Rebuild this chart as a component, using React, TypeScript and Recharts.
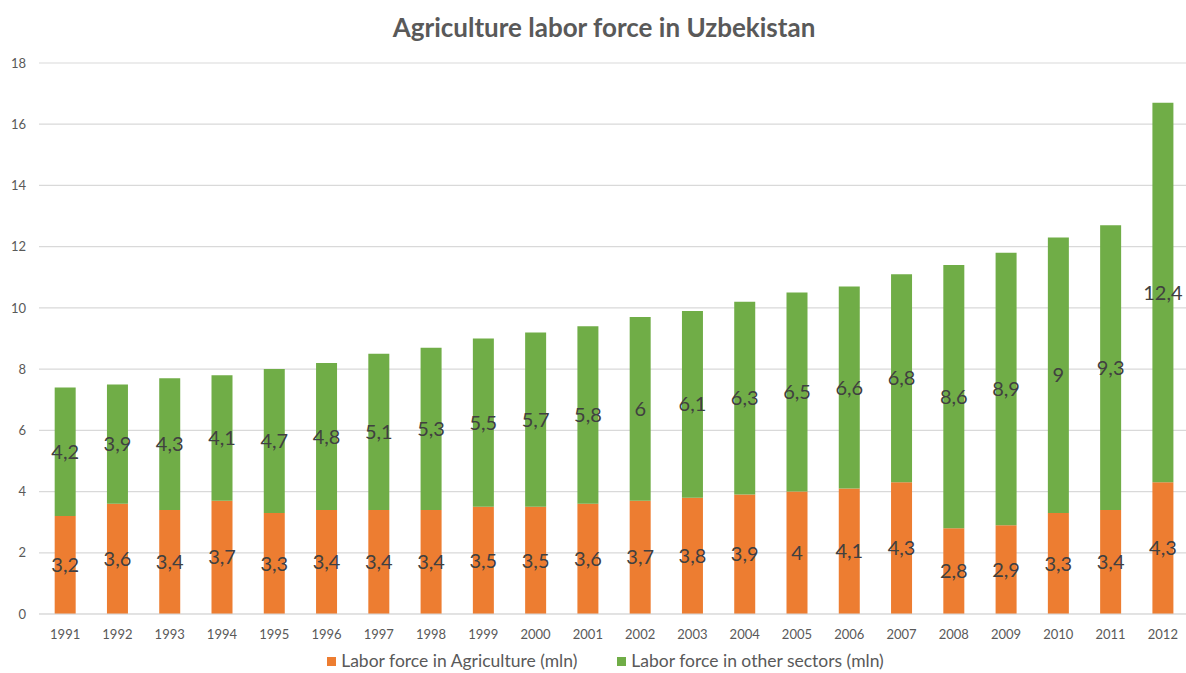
import { Bar, BarChart, CartesianGrid, LabelList, Legend, XAxis, YAxis } from 'recharts';

const years = [
  '1991', '1992', '1993', '1994', '1995', '1996', '1997', '1998', '1999', '2000', '2001',
  '2002', '2003', '2004', '2005', '2006', '2007', '2008', '2009', '2010', '2011', '2012',
];
const agriculture = [3.2, 3.6, 3.4, 3.7, 3.3, 3.4, 3.4, 3.4, 3.5, 3.5, 3.6, 3.7, 3.8, 3.9, 4, 4.1, 4.3, 2.8, 2.9, 3.3, 3.4, 4.3];
const otherSectors = [4.2, 3.9, 4.3, 4.1, 4.7, 4.8, 5.1, 5.3, 5.5, 5.7, 5.8, 6, 6.1, 6.3, 6.5, 6.6, 6.8, 8.6, 8.9, 9, 9.3, 12.4];
const yTicks = [0, 2, 4, 6, 8, 10, 12, 14, 16, 18];

const FONT = 'Lato, "Open Sans", sans-serif';
const ORANGE = '#ED7D31';
const GREEN = '#70AD47';

const chartData = years.map((year, i) => ({ year, agri: agriculture[i], other: otherSectors[i] }));

const fmt = (v: number | string) => String(v).replace('.', ',');

const legendItems = [
  { label: 'Labor force in Agriculture (mln)', color: ORANGE },
  { label: 'Labor force in other sectors (mln)', color: GREEN },
];

function ChartLegend() {
  return (
    <div
      style={{
        display: 'flex',
        justifyContent: 'center',
        gap: 40,
        paddingLeft: 22,
        paddingTop: 14,
        lineHeight: '18px',
      }}
    >
      {legendItems.map((it) => (
        <div key={it.label} style={{ display: 'flex', alignItems: 'center', fontSize: 17.5, color: '#595959' }}>
          <span style={{ width: 9, height: 9, background: it.color, marginRight: 5, display: 'inline-block' }} />
          {it.label}
        </div>
      ))}
    </div>
  );
}

export default function App() {
  return (
    <div
      style={{
        position: 'fixed',
        left: 0,
        top: 0,
        width: 1186,
        height: 673,
        overflow: 'hidden',
        background: '#fff',
        fontFamily: FONT,
      }}
    >
      <div
        style={{
          position: 'absolute',
          top: 11,
          left: 0,
          width: 1208,
          textAlign: 'center',
          fontSize: 26,
          fontWeight: 700,
          color: '#595959',
        }}
      >
        Agriculture labor force in Uzbekistan
      </div>
      <BarChart
        width={1200}
        height={673}
        data={chartData}
        margin={{ top: 63, right: 11, left: 0, bottom: 0 }}
        barCategoryGap="30%"
      >
        <CartesianGrid vertical={false} stroke="#D9D9D9" strokeWidth={1.2} />
        <XAxis
          dataKey="year"
          height={24}
          tickLine={false}
          axisLine={{ stroke: '#D9D9D9' }}
          tick={{ fontSize: 13, fill: '#595959', fontFamily: FONT }}
          tickMargin={10}
          interval={0}
        />
        <YAxis
          width={39}
          domain={[0, 18]}
          ticks={yTicks}
          tickLine={false}
          axisLine={false}
          tick={{ fontSize: 13, fill: '#595959', fontFamily: FONT }}
          tickMargin={7}
        />
        <Legend verticalAlign="bottom" height={35} content={() => <ChartLegend />} />
        <Bar dataKey="agri" stackId="a" fill={ORANGE} isAnimationActive={false} name="Labor force in Agriculture (mln)">
          <LabelList dataKey="agri" position="center" formatter={fmt} fill="#404040" fontSize={20} fontFamily={FONT} />
        </Bar>
        <Bar dataKey="other" stackId="a" fill={GREEN} isAnimationActive={false} name="Labor force in other sectors (mln)">
          <LabelList dataKey="other" position="center" formatter={fmt} fill="#404040" fontSize={20} fontFamily={FONT} />
        </Bar>
      </BarChart>
    </div>
  );
}
